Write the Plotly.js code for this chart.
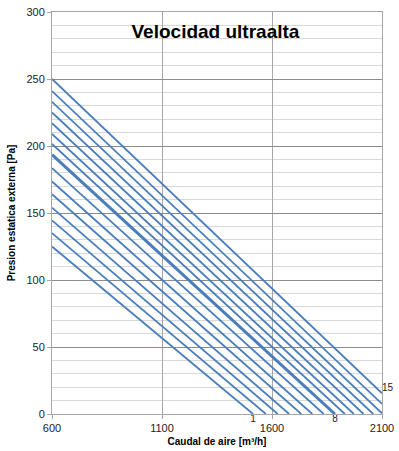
<!DOCTYPE html>
<html>
<head>
<meta charset="utf-8">
<script src="https://cdn.plot.ly/plotly-3.0.1.min.js"></script>
<style>
  html, body { margin: 0; padding: 0; background: #fff; }
  #chart { width: 399px; height: 451px; }
</style>
</head>
<body>
<div id="chart"></div>
<script>
// Curve numbers
const curveNames = ['1','2','3','4','5','6','7','8','9','10','11','12','13','14','15'];
// Start point of each curve (flow m3/h, pressure Pa)
const startFlow = [600,600,600,600,600,600,600,600,600,600,600,600,600,600,600];
const startPressure = [125,135,144.5,154,164,173.5,183.5,193.5,201.5,209,217,225,233,241,250];
// End point of each curve (flow m3/h, pressure Pa)
const endFlow = [1514,1572,1626,1678,1733,1783,1835,1886,1931,1972,2016,2060,2100,2100,2100];
const endPressure = [0,0,0,0,0,0,0,0,0,0,0,0,0.5,7.5,15.5];
// Curves that get an end label
const labelledCurves = ['1','8','15'];
const xTicks = [600,1100,1600,2100];
const yTicks = [0,50,100,150,200,250,300];

const blue = '#4A7EBB';
const traces = curveNames.map((name, i) => {
  const labelled = labelledCurves.includes(name);
  return {
    type: 'scatter',
    mode: labelled ? 'lines+text' : 'lines',
    x: [startFlow[i], endFlow[i]],
    y: [startPressure[i], endPressure[i]],
    text: ['', labelled ? name : ''],
    textposition: name === '15' ? 'top right' : 'bottom center',
    textfont: {family: 'Liberation Sans, Arial, sans-serif', size: 10, color: '#222'},
    cliponaxis: false,
    line: {color: blue, width: name === '8' ? 3 : 1.8},
    hoverinfo: 'skip',
    showlegend: false
  };
});

const layout = {
  width: 399, height: 451,
  margin: {l: 52, r: 17, t: 12, b: 37, pad: 0},
  paper_bgcolor: '#fff', plot_bgcolor: '#fff',
  showlegend: false,
  title: {
    text: '<b>Velocidad ultraalta</b>',
    x: 0.54, xanchor: 'center', xref: 'container',
    y: 0.931, yanchor: 'middle', yref: 'container',
    font: {family: 'Liberation Sans, Arial, sans-serif', size: 19, color: '#000'}
  },
  xaxis: {
    range: [600, 2100], tickvals: xTicks, ticktext: xTicks.map(String),
    showgrid: true, gridcolor: '#A6A6A6', gridwidth: 1,
    zeroline: false, showline: true, linecolor: '#A6A6A6', linewidth: 1, mirror: true,
    ticks: 'outside', ticklen: 4, tickcolor: '#A6A6A6',
    tickfont: {family: 'Liberation Sans, Arial, sans-serif', size: 11, color: '#222'},
    title: {text: '<b>Caudal de aire [m³/h]</b>', standoff: 4,
      font: {family: 'Liberation Sans, Arial, sans-serif', size: 10, color: '#000'}},
    automargin: false, fixedrange: true
  },
  yaxis: {
    range: [0, 300], tickvals: yTicks, ticktext: yTicks.map(String),
    showgrid: true, gridcolor: '#8C8C8C', gridwidth: 1,
    minor: {dtick: 10, tick0: 0, showgrid: true, gridcolor: '#D9D9D9', gridwidth: 1, ticks: ''},
    zeroline: false, showline: true, linecolor: '#A6A6A6', linewidth: 1, mirror: true,
    ticks: 'outside', ticklen: 4, tickcolor: '#A6A6A6',
    tickfont: {family: 'Liberation Sans, Arial, sans-serif', size: 11, color: '#222'},
    title: {text: '<b>Presion estatica externa [Pa]</b>', standoff: 8,
      font: {family: 'Liberation Sans, Arial, sans-serif', size: 10, color: '#000'}},
    automargin: false, fixedrange: true
  }
};

Plotly.newPlot('chart', traces, layout, {displayModeBar: false, staticPlot: true});
</script>
</body>
</html>
